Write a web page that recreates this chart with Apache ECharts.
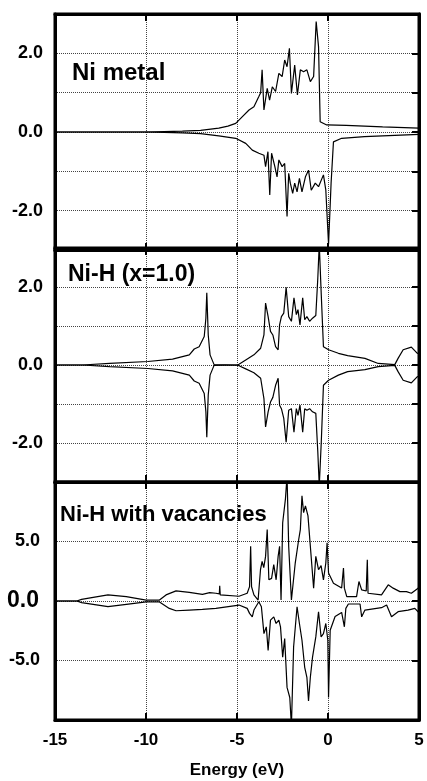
<!DOCTYPE html>
<html>
<head>
<meta charset="utf-8">
<script src="https://cdn.jsdelivr.net/npm/echarts@6/dist/echarts.min.js"></script>
<style>
  html, body { margin: 0; padding: 0; background: #fff; }
  #main { width: 427px; height: 781px; }
</style>
</head>
<body>
<div id="main"></div>
<script>
// energy (eV) vs DOS, spin up (positive) and spin down (negative)
var niMetalUp = [[-15,0],[-10,0],[-9,0.01],[-8,0.02],[-7,0.04],[-6,0.1],[-5.5,0.15],[-5.07,0.22],[-4.73,0.38],[-4.34,0.56],[-4.07,0.64],[-3.8,0.9],[-3.7,1.0],[-3.62,1.58],[-3.52,0.56],[-3.34,1.11],[-3.21,0.81],[-3.06,1.15],[-2.88,1.03],[-2.7,1.49],[-2.52,1.41],[-2.38,1.83],[-2.25,1.66],[-2.12,2.13],[-2.01,0.98],[-1.83,1.7],[-1.68,0.94],[-1.52,1.58],[-1.34,1.53],[-1.16,1.58],[-0.97,1.28],[-0.79,1.41],[-0.65,2.81],[-0.52,2.17],[-0.43,0.26],[-0.07,0.18],[1,0.17],[3,0.13],[5,0.1]];
var niMetalDown = [[-15,0],[-10,0],[-9,-0.01],[-8,-0.02],[-7,-0.04],[-6,-0.1],[-5.07,-0.16],[-4.52,-0.29],[-4.16,-0.46],[-3.8,-0.54],[-3.52,-0.59],[-3.43,-0.88],[-3.3,-0.5],[-3.2,-1.6],[-3.1,-0.54],[-2.92,-0.88],[-2.8,-1.14],[-2.7,-0.71],[-2.52,-0.88],[-2.38,-0.8],[-2.25,-2.15],[-2.16,-1.05],[-2.07,-1.3],[-1.94,-1.56],[-1.83,-1.3],[-1.7,-1.52],[-1.57,-1.18],[-1.43,-1.52],[-1.24,-1.14],[-1.07,-0.97],[-0.92,-1.48],[-0.7,-1.3],[-0.52,-1.39],[-0.25,-1.09],[-0.12,-1.48],[0.03,-2.85],[0.17,-1.3],[0.3,-0.25],[0.75,-0.16],[2,-0.12],[5,-0.06]];

var niHUp = [[-15,0],[-13.5,0],[-12,0.04],[-9.9,0.09],[-8.54,0.15],[-7.62,0.26],[-7.35,0.41],[-7.08,0.47],[-6.8,0.73],[-6.71,1.2],[-6.66,1.85],[-6.58,0.77],[-6.48,0.26],[-6.26,0.01],[-5,0],[-4.89,0.02],[-4.52,0.13],[-4.07,0.26],[-3.7,0.43],[-3.52,0.77],[-3.43,1.59],[-3.29,1.24],[-3.16,0.86],[-3.03,0.77],[-2.88,0.47],[-2.74,0.39],[-2.66,1.03],[-2.56,1.24],[-2.43,1.33],[-2.3,1.99],[-2.16,1.24],[-2.01,1.12],[-1.87,1.72],[-1.74,1.29],[-1.65,1.42],[-1.54,1.03],[-1.39,1.72],[-1.28,1.16],[-1.16,1.24],[-1.01,1.12],[-0.85,1.2],[-0.67,1.27],[-0.56,2.23],[-0.48,3.1],[-0.37,1.8],[-0.25,0.47],[0.03,0.39],[0.57,0.3],[1.08,0.24],[2.03,0.17],[2.76,0.04],[3.67,0.01],[3.85,0.17],[4.13,0.39],[4.58,0.46],[4.91,0.3],[5,0.28]];
var niHDown = [[-15,0],[-13.5,0],[-12,-0.04],[-9.9,-0.09],[-8.54,-0.15],[-7.62,-0.26],[-7.35,-0.41],[-7.08,-0.47],[-6.8,-0.73],[-6.71,-1.2],[-6.66,-1.85],[-6.58,-0.77],[-6.48,-0.26],[-6.26,-0.01],[-5,0],[-4.89,-0.02],[-4.52,-0.1],[-4.07,-0.2],[-3.7,-0.34],[-3.52,-0.86],[-3.43,-1.59],[-3.29,-1.2],[-3.16,-0.95],[-3.03,-0.83],[-2.88,-0.52],[-2.74,-0.34],[-2.66,-1.03],[-2.56,-1.12],[-2.43,-1.37],[-2.3,-1.98],[-2.16,-1.16],[-2.01,-1.12],[-1.87,-1.72],[-1.74,-1.12],[-1.65,-1.29],[-1.54,-1.03],[-1.39,-1.72],[-1.28,-1.12],[-1.16,-1.16],[-1.01,-1.12],[-0.85,-1.2],[-0.67,-1.24],[-0.56,-2.23],[-0.48,-3.1],[-0.37,-1.98],[-0.25,-0.52],[0.03,-0.39],[0.57,-0.26],[1.08,-0.17],[2.03,-0.12],[2.76,-0.04],[3.67,-0.01],[3.85,-0.17],[4.13,-0.39],[4.58,-0.46],[4.91,-0.3],[5,-0.28]];

var vacUp = [[-15,0],[-13.8,0],[-13.54,0.14],[-12.9,0.31],[-12.09,0.51],[-11.08,0.37],[-9.99,0.08],[-9.26,0.08],[-8.9,0.51],[-8.35,0.85],[-7.62,0.73],[-6.9,0.56],[-6.5,0.7],[-6.16,0.65],[-5.97,0.6],[-5.95,1.27],[-5.92,0.51],[-4.89,0.4],[-4.44,0.65],[-4.31,1.21],[-4.25,4.6],[-4.2,1.2],[-4.07,0.51],[-3.84,0.08],[-3.71,2.63],[-3.62,3.33],[-3.53,2.8],[-3.43,3.75],[-3.34,6.0],[-3.25,1.78],[-3.1,1.9],[-2.98,3.05],[-2.85,1.78],[-2.74,3.75],[-2.66,4.6],[-2.58,0.08],[-2.49,6.58],[-2.34,8.56],[-2.25,10.5],[-2.16,4.6],[-2.01,0.08],[-1.8,3.19],[-1.61,5.17],[-1.52,6.0],[-1.43,8.84],[-1.34,7.43],[-1.24,7.99],[-1.1,7.15],[-0.97,4.6],[-0.79,1.08],[-0.67,3.75],[-0.52,2.63],[-0.38,2.97],[-0.25,1.78],[-0.12,3.19],[-0.05,4.89],[0.03,2.35],[0.3,1.5],[0.75,1.1],[0.85,2.77],[0.9,1.08],[1.03,0.37],[1.57,0.37],[1.7,1.64],[1.85,0.93],[2.1,0.84],[2.16,3.47],[2.2,0.65],[2.94,0.51],[3.31,1.36],[3.58,1.08],[3.95,0.79],[4.31,0.79],[4.58,0.65],[4.95,1.08],[5,1.2]];
var vacDown = [[-15,0],[-13.8,0],[-13.54,-0.14],[-12.09,-0.48],[-11.08,-0.28],[-9.99,-0.08],[-9.26,-0.08],[-8.72,-0.62],[-8.35,-0.82],[-7.62,-0.76],[-6.9,-0.7],[-6.16,-0.62],[-4.89,-0.34],[-4.44,-0.62],[-4.31,-1.04],[-4.16,-1.33],[-4.07,-0.76],[-3.8,-0.06],[-3.66,-0.48],[-3.52,-2.74],[-3.39,-2.17],[-3.29,-4.15],[-3.16,-1.61],[-2.98,-1.33],[-2.85,-1.89],[-2.7,-1.61],[-2.61,-2.17],[-2.49,-4.72],[-2.38,-3.16],[-2.25,-7.26],[-2.1,-8.11],[-2.01,-10.5],[-1.89,-3.87],[-1.7,-0.48],[-1.57,-1.89],[-1.43,-3.3],[-1.28,-5.57],[-1.16,-6.41],[-1.07,-8.39],[-0.97,-6.41],[-0.85,-4.72],[-0.67,-3.02],[-0.52,-0.9],[-0.38,-3.02],[-0.25,-2.74],[-0.12,-1.89],[-0.01,-3.3],[0.03,-8.11],[0.12,-2.46],[0.39,-1.3],[0.75,-0.96],[0.9,-2.17],[0.98,-0.62],[1.12,-0.25],[1.76,-0.25],[1.85,-1.33],[2.03,-0.76],[2.94,-0.56],[3.22,-0.34],[3.49,-1.33],[3.85,-0.9],[4.4,-0.76],[4.77,-0.62],[4.95,-0.9],[5,-0.85]];

var panelTitles = ['Ni metal', 'Ni-H (x=1.0)', 'Ni-H with vacancies'];
var energyTicks = [-15, -10, -5, 0, 5];

var FONT = 'Liberation Sans';
var myChart = echarts.init(document.getElementById('main'));

var grids = [
    { left: 55, right: 8, top: 14, height: 236 },
    { left: 55, right: 8, top: 248, height: 234 },
    { left: 55, right: 8, top: 482, height: 238 }
];
grids.forEach(function (g) {
    g.show = true;
    g.borderColor = '#000';
    g.borderWidth = 3;
    g.backgroundColor = 'transparent';
});

var dotted = { show: true, lineStyle: { color: '#444', type: 'dotted', width: 1 } };
var edge = { show: true, onZero: false, lineStyle: { color: '#000', width: 3 } };
var tick = { show: true, inside: true, length: 7, lineStyle: { color: '#000', width: 2 } };

function xAx(i, pos) {
    var bottom = pos === 'bottom';
    return {
        type: 'value', gridIndex: i, position: pos,
        min: energyTicks[0], max: energyTicks[energyTicks.length - 1], interval: 5,
        axisLine: edge,
        axisTick: tick,
        splitLine: bottom ? dotted : { show: false },
        axisLabel: {
            show: bottom && i === 2, margin: 12,
            fontFamily: FONT, fontWeight: 'bold', fontSize: 17, color: '#000'
        },
        name: bottom && i === 2 ? 'Energy (eV)' : '',
        nameLocation: 'middle', nameGap: 42,
        nameTextStyle: { fontFamily: FONT, fontWeight: 'bold', fontSize: 17, color: '#000' }
    };
}

function yAx(i, pos) {
    var left = pos === 'left';
    var big = i === 2;
    return {
        type: 'value', gridIndex: i, position: pos,
        min: big ? -10 : -3, max: big ? 10 : 3, interval: big ? 5 : 1,
        axisLine: edge,
        axisTick: left ? { show: false } : tick,
        splitLine: left ? dotted : { show: false },
        axisLabel: {
            show: left, margin: big ? 15 : 12,
            fontFamily: FONT, fontWeight: 'bold', fontSize: 18, color: '#000',
            formatter: function (v) {
                // the zero label of the last panel is drawn larger, as a title below
                if (big) return Math.abs(v) === 5 ? v.toFixed(1) : '';
                return v % 2 === 0 ? v.toFixed(1) : '';
            }
        }
    };
}

var xAxes = [xAx(0, 'bottom'), xAx(1, 'bottom'), xAx(2, 'bottom'), xAx(0, 'top'), xAx(1, 'top'), xAx(2, 'top')];
var yAxes = [yAx(0, 'left'), yAx(1, 'left'), yAx(2, 'left'), yAx(0, 'right'), yAx(1, 'right'), yAx(2, 'right')];

function line(data, i) {
    return {
        type: 'line', xAxisIndex: i, yAxisIndex: i, data: data,
        showSymbol: false, symbol: 'none', smooth: false, clip: true,
        lineStyle: { color: '#000', width: 1.2 }
    };
}

function ts(size) {
    return { fontFamily: FONT, fontWeight: 'bold', color: '#000', fontSize: size };
}

option = {
    animation: false,
    backgroundColor: '#fff',
    title: [
        { text: panelTitles[0], left: 72, top: 61, padding: 0, textStyle: ts(24) },
        { text: panelTitles[1], left: 68, top: 263, padding: 0, textStyle: ts(23) },
        { text: panelTitles[2], left: 60, top: 504, padding: 0, textStyle: ts(22) },
        { text: '0.0', left: 7, top: 589, padding: 0, textStyle: ts(23) }
    ],
    grid: grids,
    xAxis: xAxes,
    yAxis: yAxes,
    series: [
        line(niMetalUp, 0), line(niMetalDown, 0),
        line(niHUp, 1), line(niHDown, 1),
        line(vacUp, 2), line(vacDown, 2)
    ]
};

myChart.setOption(option);
</script>
</body>
</html>
